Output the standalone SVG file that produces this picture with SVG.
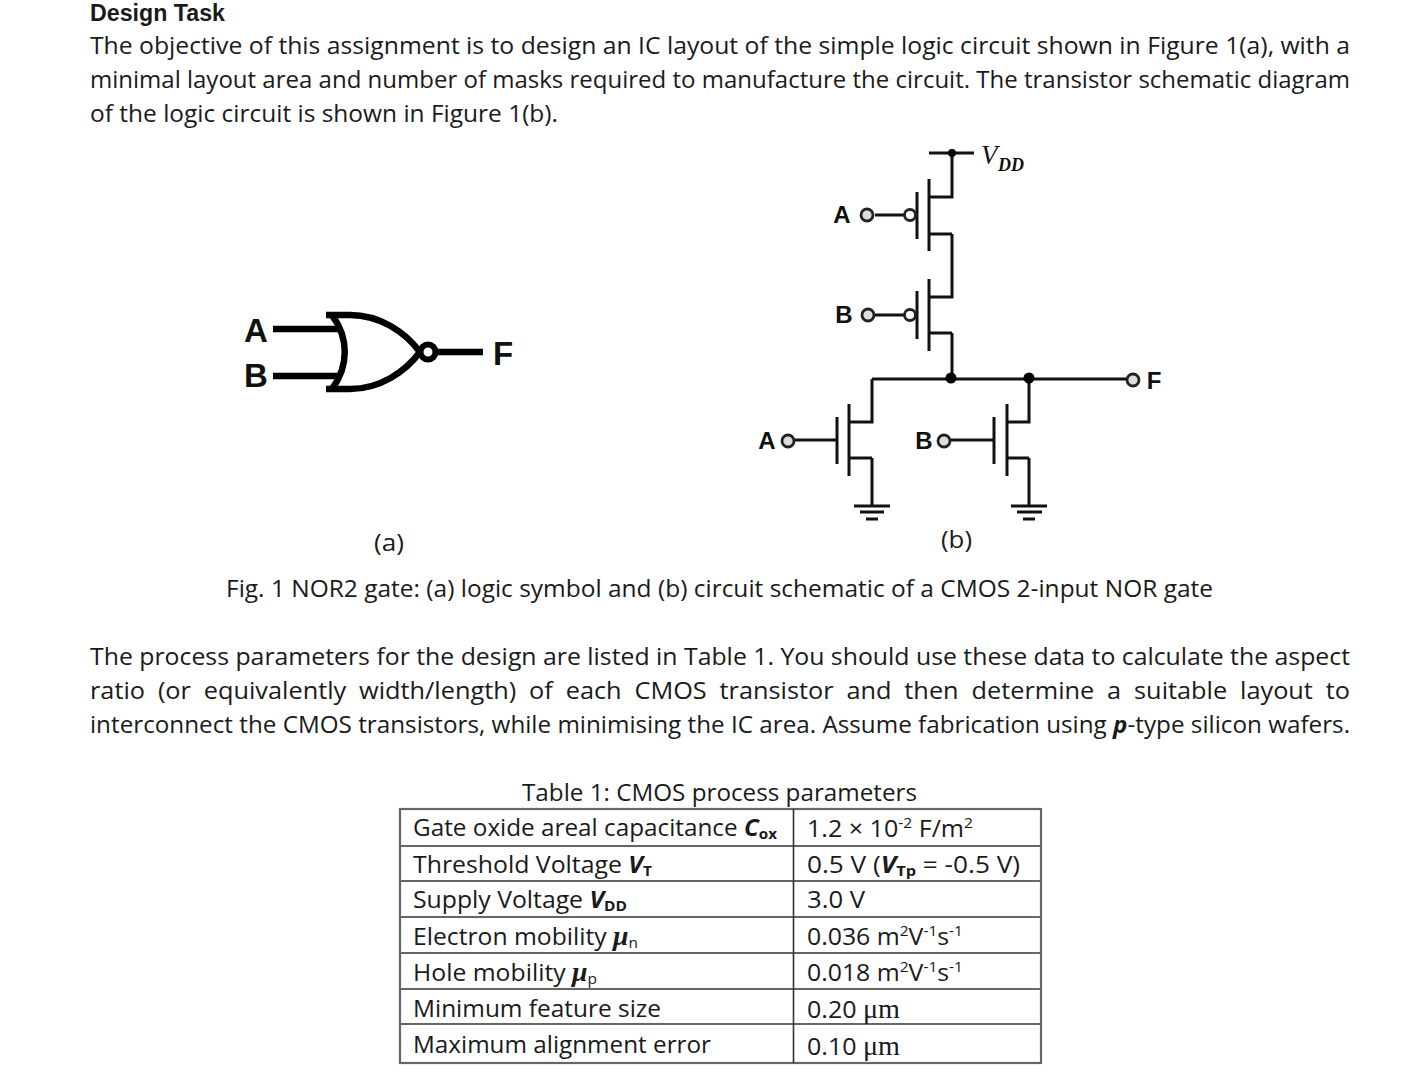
<svg xmlns="http://www.w3.org/2000/svg" width="1427" height="1089" viewBox="0 0 1427 1089">
<style>
text{font-family:"Open Sans","Liberation Sans",sans-serif;font-size:24px;fill:#1a1a1a}
.head{font-family:"Liberation Sans",sans-serif;font-size:23px;font-weight:700}
.b{font-weight:700}
.bi{font-weight:700;font-style:italic}
.sub{font-size:15px;font-weight:700}
.subn{font-size:15px}
.sup{font-size:15px}
.mu{font-family:"Liberation Serif",serif}
.mui{font-family:"Liberation Serif",serif;font-weight:700;font-style:italic;font-size:27px}
.lab{font-family:"Liberation Sans",sans-serif;font-weight:700;text-anchor:middle;fill:#111}
.w{fill:none;stroke:#111;stroke-width:3}
.gate{fill:none;stroke:#000;stroke-width:6.500}
.pin{fill:#ddd;stroke:#222;stroke-width:2.800}
.bub{fill:#fff;stroke:#222;stroke-width:2.800}
.dot{fill:#000}
.vdd{font-family:"Liberation Serif",serif;font-style:italic;fill:#111}
.rule{stroke:#666;stroke-width:2.200}
</style>
<rect width="1427" height="1089" fill="#fff"/>

<g id="body-text">
<text class="head" x="90" y="21" textLength="135" lengthAdjust="spacingAndGlyphs">Design Task</text>
<text x="90" y="54" textLength="1260" lengthAdjust="spacingAndGlyphs">The objective of this assignment is to design an IC layout of the simple logic circuit shown in Figure 1(a), with a</text>
<text x="90" y="88" textLength="1260" lengthAdjust="spacingAndGlyphs">minimal layout area and number of masks required to manufacture the circuit. The transistor schematic diagram</text>
<text x="90" y="122" textLength="468" lengthAdjust="spacingAndGlyphs">of the logic circuit is shown in Figure 1(b).</text>
<text x="374" y="551" textLength="30" lengthAdjust="spacingAndGlyphs">(a)</text>
<text x="941" y="548" textLength="31" lengthAdjust="spacingAndGlyphs">(b)</text>
<text x="226" y="597" textLength="987" lengthAdjust="spacingAndGlyphs">Fig. 1 NOR2 gate: (a) logic symbol and (b) circuit schematic of a CMOS 2-input NOR gate</text>
<text x="90" y="665" textLength="1260" lengthAdjust="spacingAndGlyphs">The process parameters for the design are listed in Table 1. You should use these data to calculate the aspect</text>
<text x="90" y="699" word-spacing="6" textLength="1260" lengthAdjust="spacingAndGlyphs">ratio (or equivalently width/length) of each CMOS transistor and then determine a suitable layout to</text>
<text x="90" y="733" textLength="1260" lengthAdjust="spacingAndGlyphs">interconnect the CMOS transistors, while minimising the IC area. Assume fabrication using <tspan class="bi">p</tspan>-type silicon wafers.</text>
</g>

<g id="nor-symbol">
<path class="gate" d="M273 329H338M273 376H338M438 352H483"/>
<path class="gate" d="M326 315H350C380 315 405 332 420 352C405 372 380 389 350 389H326"/>
<path class="gate" d="M332 315C349 338 349 366 332 389"/>
<circle cx="428" cy="352" r="7.500" fill="#fff" stroke="#000" stroke-width="6"/>
<text class="lab" x="256" y="342" style="font-size:33px">A</text>
<text class="lab" x="256" y="387" style="font-size:33px">B</text>
<text class="lab" x="503" y="365" style="font-size:33px">F</text>
</g>

<g id="connectors">
<path class="w" d="M929 153H974M952 153V197H929M952 234H929M952 234V297H929M952 333H929M952 333V379"/>
<path class="w" d="M872 379H1126M872 379V422H849M872 458H849M872 458V506M1029 379V422H1007M1029 458H1007M1029 458V506"/>
<path class="w" d="M875 215H904M875 315H904M795 440H837M951 440H994"/>
<circle class="dot" cx="952" cy="153" r="4"/>
<circle class="dot" cx="951" cy="378" r="5.500"/>
<circle class="dot" cx="1029" cy="378" r="5.500"/>
</g>

<g id="vdd-label">
<text class="vdd" x="981" y="164" style="font-size:27px">V</text>
<text class="vdd" x="998" y="171" style="font-size:18px;font-weight:700">DD</text>
</g>

<g id="pmos-a">
<path class="w" d="M929 179V251M917 192V239"/>
<circle class="bub" cx="910" cy="215" r="5.500"/>
<circle class="pin" cx="867" cy="215" r="6"/>
<text class="lab" x="842" y="223" style="font-size:24px">A</text>
</g>
<g id="pmos-b">
<path class="w" d="M929 279V351M917 291V339"/>
<circle class="bub" cx="910" cy="315" r="5.500"/>
<circle class="pin" cx="868" cy="315" r="6"/>
<text class="lab" x="844" y="323" style="font-size:24px">B</text>
</g>
<g id="nmos-a">
<path class="w" d="M849 404V476M837 417V464"/>
<circle class="pin" cx="788" cy="441" r="6"/>
<text class="lab" x="767" y="449" style="font-size:24px">A</text>
</g>
<g id="nmos-b">
<path class="w" d="M1007 404V476M994 417V464"/>
<circle class="pin" cx="944" cy="441" r="6"/>
<text class="lab" x="924" y="449" style="font-size:24px">B</text>
</g>
<g id="ground-a">
<path class="w" d="M854 506H890M860 512H884M866 519H878"/>
</g>
<g id="ground-b">
<path class="w" d="M1011 506H1047M1017 512H1042M1023 519H1035"/>
</g>
<g id="output-f">
<circle class="pin" cx="1133" cy="380" r="6"/>
<text class="lab" x="1154" y="389" style="font-size:24px">F</text>
</g>

<g id="table">
<text x="522" y="801" textLength="395" lengthAdjust="spacingAndGlyphs">Table 1: CMOS process parameters</text>
<rect x="400" y="809" width="641" height="254" fill="none" stroke="#666" stroke-width="2.200"/>
<path class="rule" d="M400 846H1041M400 881H1041M400 917H1041M400 953H1041M400 989H1041M400 1024H1041"/>
<path d="M793.500 809V1063" stroke="#333" stroke-width="1.600"/>
<text x="413" y="836" textLength="364" lengthAdjust="spacingAndGlyphs">Gate oxide areal capacitance <tspan class="bi">C</tspan><tspan class="sub" dy="3">ox</tspan></text>
<text x="413" y="873" textLength="239" lengthAdjust="spacingAndGlyphs">Threshold Voltage <tspan class="bi">V</tspan><tspan class="sub" dy="3">T</tspan></text>
<text x="413" y="908" textLength="214" lengthAdjust="spacingAndGlyphs">Supply Voltage <tspan class="bi">V</tspan><tspan class="sub" dy="3">DD</tspan></text>
<text x="413" y="945" textLength="225" lengthAdjust="spacingAndGlyphs">Electron mobility <tspan class="mui">μ</tspan><tspan class="subn" dy="3">n</tspan></text>
<text x="413" y="981" textLength="184" lengthAdjust="spacingAndGlyphs">Hole mobility <tspan class="mui">μ</tspan><tspan class="subn" dy="3">p</tspan></text>
<text x="413" y="1017" textLength="248" lengthAdjust="spacingAndGlyphs">Minimum feature size</text>
<text x="413" y="1053" textLength="298" lengthAdjust="spacingAndGlyphs">Maximum alignment error</text>
<text x="807" y="837" textLength="166" lengthAdjust="spacingAndGlyphs">1.2 × 10<tspan class="sup" dy="-9">-2</tspan><tspan dy="9"> F/m</tspan><tspan class="sup" dy="-9">2</tspan></text>
<text x="807" y="873" textLength="213" lengthAdjust="spacingAndGlyphs">0.5 V  (<tspan class="bi">V</tspan><tspan class="sub" dy="3">Tp</tspan><tspan dy="-3"> = -0.5 V)</tspan></text>
<text x="807" y="908" textLength="58" lengthAdjust="spacingAndGlyphs">3.0 V</text>
<text x="807" y="945" textLength="156" lengthAdjust="spacingAndGlyphs">0.036 m<tspan class="sup" dy="-9">2</tspan><tspan dy="9">V</tspan><tspan class="sup" dy="-9">-1</tspan><tspan dy="9">s</tspan><tspan class="sup" dy="-9">-1</tspan></text>
<text x="807" y="981" textLength="156" lengthAdjust="spacingAndGlyphs">0.018 m<tspan class="sup" dy="-9">2</tspan><tspan dy="9">V</tspan><tspan class="sup" dy="-9">-1</tspan><tspan dy="9">s</tspan><tspan class="sup" dy="-9">-1</tspan></text>
<text x="807" y="1018" textLength="93" lengthAdjust="spacingAndGlyphs">0.20 <tspan class="mu" style="font-size:27px">μm</tspan></text>
<text x="807" y="1055" textLength="93" lengthAdjust="spacingAndGlyphs">0.10 <tspan class="mu" style="font-size:27px">μm</tspan></text>
</g>
</svg>
